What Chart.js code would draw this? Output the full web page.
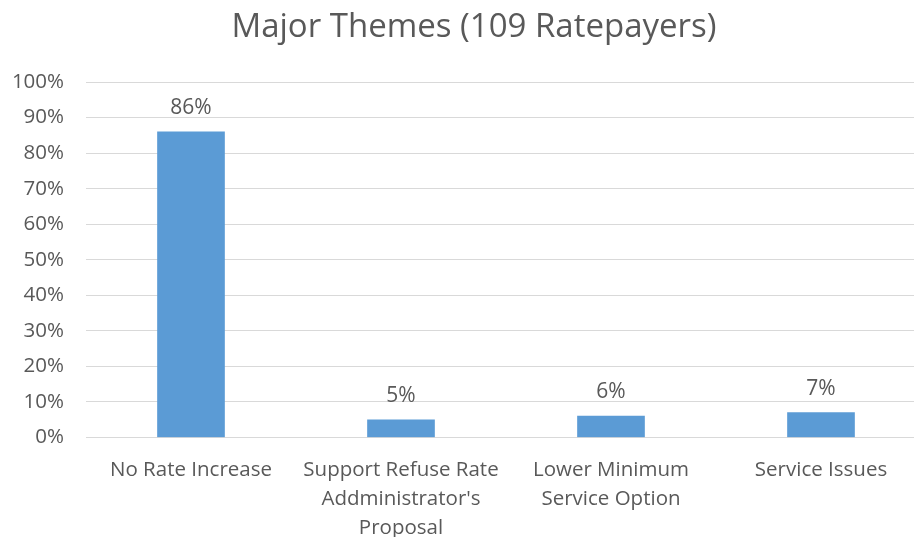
<!DOCTYPE html>
<html>
<head>
<meta charset="utf-8">
<script src="https://cdn.jsdelivr.net/npm/chart.js@4.4.0/dist/chart.umd.min.js"></script>
<style>
  html, body { margin: 0; padding: 0; background: #fff; overflow: hidden; }
  #wrap { width: 948px; height: 537px; }
</style>
</head>
<body>
<div id="wrap"><canvas id="themesChart"></canvas></div>
<script>
const categories = [
    'No Rate Increase',
    ['Support Refuse Rate', "Addministrator's", 'Proposal'],
    ['Lower Minimum', 'Service Option'],
    'Service Issues'
];
const shares = [86, 5, 6, 7];
const yTicks = [0, 10, 20, 30, 40, 50, 60, 70, 80, 90, 100];

const textGrey = '#595959';
const fontFamily = '"Open Sans", Lato, sans-serif';

// writes the percentage above each bar
const valueLabels = {
    id: 'valueLabels',
    afterDatasetsDraw(chart) {
        const ctx = chart.ctx;
        const meta = chart.getDatasetMeta(0);
        ctx.save();
        ctx.fillStyle = textGrey;
        ctx.font = '21px ' + fontFamily;
        ctx.textAlign = 'center';
        ctx.textBaseline = 'alphabetic';
        meta.data.forEach((bar, i) => {
            ctx.fillText(shares[i] + '%', bar.x, bar.y - 18);
        });
        ctx.restore();
    }
};

// centre the title on the whole canvas rather than the padded box
const titleCentre = {
    id: 'titleCentre',
    afterLayout(chart) {
        if (chart.titleBlock) {
            chart.titleBlock.left = 22;
        }
    }
};

document.addEventListener('DOMContentLoaded', function(){
    const ctx = document.getElementById('themesChart').getContext('2d');
    new Chart(ctx, {
        type: 'bar',
        data: {
            labels: categories,
            datasets: [{
                label: 'Share',
                data: shares,
                backgroundColor: '#5B9BD5',
                barThickness: 67
            }]
        },
        options: {
            responsive: true,
            maintainAspectRatio: false,
            animation: false,
            layout: { padding: { left: 0, right: 22, top: 0, bottom: 0 } },
            plugins: {
                legend: { display: false },
                tooltip: { enabled: false },
                title: {
                    display: true,
                    text: 'Major Themes (109 Ratepayers)',
                    color: textGrey,
                    font: { family: fontFamily, size: 33, weight: 'normal' },
                    padding: { top: 8, bottom: 34.5 }
                }
            },
            scales: {
                x: {
                    grid: { display: false },
                    border: { display: false },
                    afterFit: (scale) => { scale.height = 99.5; },
                    ticks: {
                        color: textGrey,
                        font: { family: fontFamily, size: 20.5, lineHeight: 1.42 },
                        padding: 10,
                        maxRotation: 0,
                        autoSkip: false
                    }
                },
                y: {
                    min: 0,
                    max: 100,
                    afterBuildTicks: (scale) => { scale.ticks = yTicks.map(v => ({ value: v })); },
                    afterFit: (scale) => { scale.width = 86; },
                    grid: { color: '#d9d9d9', lineWidth: 1, drawTicks: false },
                    border: { display: false },
                    ticks: {
                        color: textGrey,
                        font: { family: fontFamily, size: 20.5 },
                        padding: 22,
                        callback: (v) => v + '%'
                    }
                }
            }
        },
        plugins: [valueLabels, titleCentre]
    });
});
</script>
</body>
</html>
